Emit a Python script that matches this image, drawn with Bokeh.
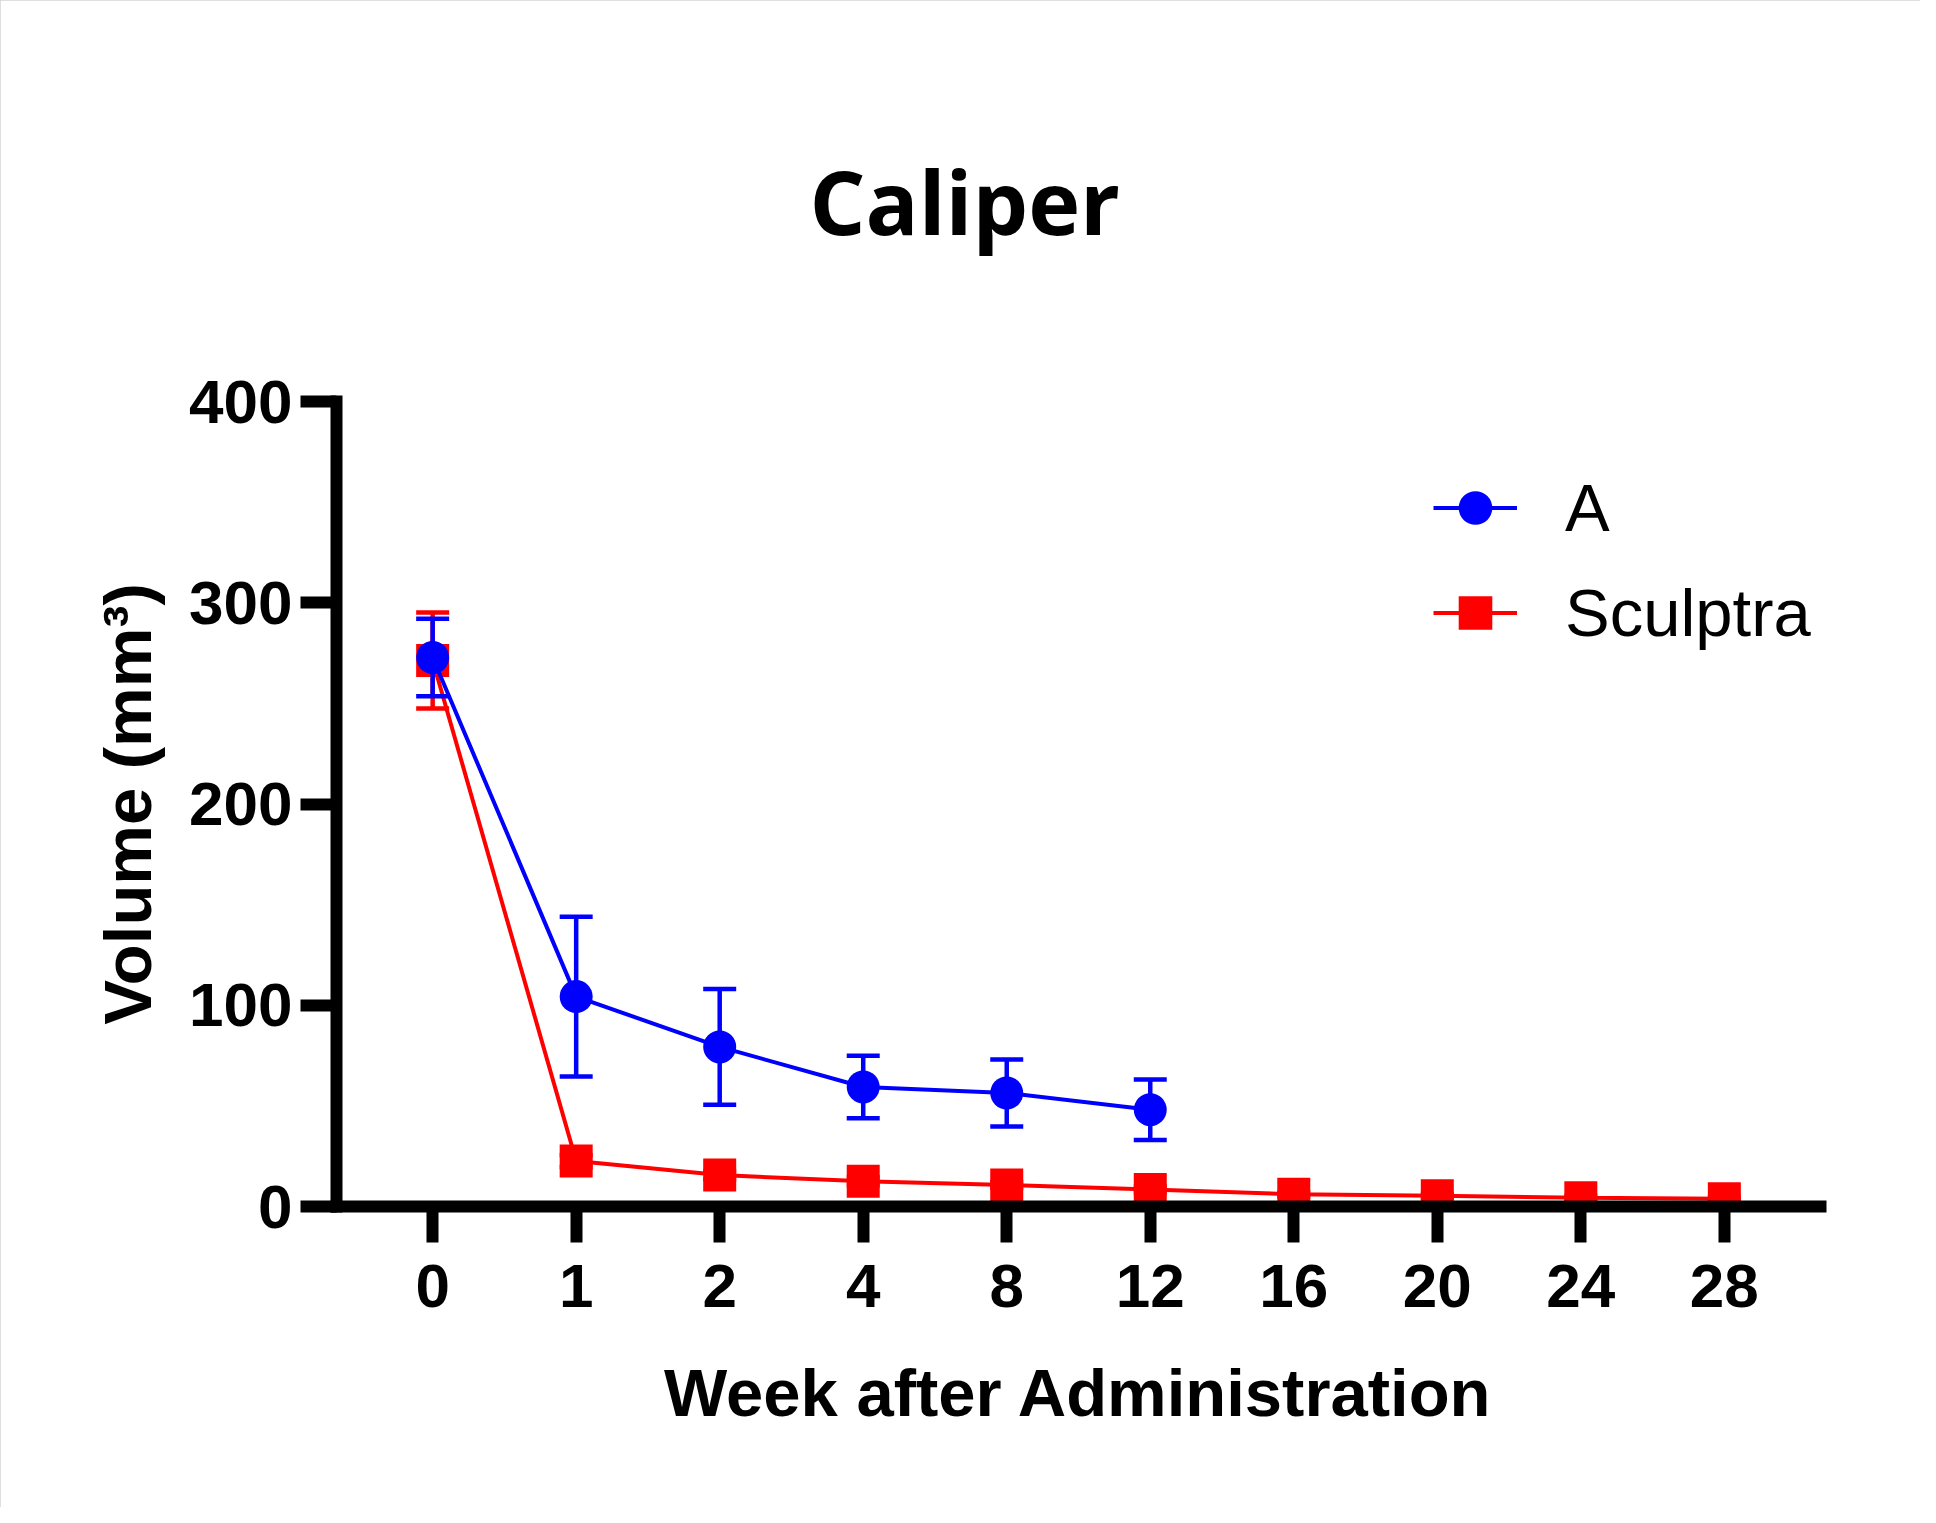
from bokeh.plotting import figure
from bokeh.models import (FactorRange, Range1d, FixedTicker, Legend,
                          LegendItem, ColumnDataSource)
from bokeh.embed import file_html
from bokeh.resources import INLINE

# ---- data ----
weeks = ["0", "1", "2", "4", "8", "12", "16", "20", "24", "28"]
a_weeks = ["0", "1", "2", "4", "8", "12"]
a_mean = [272.8, 104.3, 79.3, 59.4, 56.4, 48.1]
a_sem = [19.3, 39.7, 28.8, 15.5, 16.6, 15.0]
s_mean = [271.3, 22.6, 15.6, 12.5, 10.7, 8.4, 6.1, 5.3, 4.4, 3.8]
s_sem = [23.8, 3.0, 2.0, 2.0, 1.5, 1.5, 1.0, 1.0, 1.0, 1.0]
y_ticks = [0, 100, 200, 300, 400]
series_names = ["A", "Sculptra"]

BLUE = "#0000FF"
RED = "#FF0000"
AX_FONT = "Liberation Sans"

p = figure(width=1920, height=1507,
           x_range=FactorRange(factors=weeks, range_padding=0.17,
                               range_padding_units="absolute"),
           y_range=Range1d(0, 400),
           output_backend="svg", toolbar_location=None,
           min_border_left=336, min_border_right=100,
           min_border_top=401, min_border_bottom=301)
p.outline_line_color = None
p.xgrid.visible = False
p.ygrid.visible = False
p.background_fill_color = "white"
p.border_fill_color = "white"
p.styles = {"outline": "2px solid #d4d4d4", "outline-offset": "-2px"}

# title
p.title.text = "Caliper"
p.title.align = "left"
p.title.vertical_align = "top"
p.title.offset = 473
p.title.standoff = 278
p.title.text_font = "Open Sans"
p.title.text_font_style = "bold"
p.title.text_font_size = "88px"
p.title.text_color = "black"

p.yaxis.ticker = FixedTicker(ticks=y_ticks)
p.yaxis.axis_label = "Volume (mm³)"
p.xaxis.axis_label = "Week after Administration"

for ax in (p.xaxis[0], p.yaxis[0]):
    ax.axis_line_width = 12
    ax.axis_line_cap = "square"
    ax.axis_line_color = "black"
    ax.major_tick_line_width = 12
    ax.major_tick_line_color = "black"
    ax.major_tick_out = 36
    ax.major_tick_in = 0
    ax.minor_tick_line_color = None
    ax.major_label_text_font = AX_FONT
    ax.major_label_text_font_style = "bold"
    ax.major_label_text_font_size = "62px"
    ax.major_label_text_color = "black"
    ax.axis_label_text_font = AX_FONT
    ax.axis_label_text_font_style = "bold"
    ax.axis_label_text_font_size = "67px"
    ax.axis_label_text_color = "black"
p.xaxis.major_label_standoff = 22
p.yaxis.major_label_standoff = 8
p.xaxis.axis_label_standoff = 45
p.yaxis.axis_label_standoff = 21


def add_series(xs, means, sems, color, marker):
    src = ColumnDataSource(dict(
        x=xs, y=means,
        lo=[m - s for m, s in zip(means, sems)],
        hi=[m + s for m, s in zip(means, sems)]))
    p.segment(x0="x", y0="lo", x1="x", y1="hi", source=src,
              line_color=color, line_width=4.5)
    p.scatter(x="x", y="hi", source=src, marker="dash", size=33,
              line_color=color, line_width=4.5)
    p.scatter(x="x", y="lo", source=src, marker="dash", size=33,
              line_color=color, line_width=4.5)
    ln = p.line(x="x", y="y", source=src, line_color=color, line_width=4)
    mk = p.scatter(x="x", y="y", source=src, marker=marker, size=33,
                   fill_color=color, line_color=color, line_width=0)
    return ln, mk


r_line, r_mark = add_series(weeks, s_mean, s_sem, RED, "square")
b_line, b_mark = add_series(a_weeks, a_mean, a_sem, BLUE, "circle")

legend = Legend(items=[LegendItem(label=series_names[0], renderers=[b_line, b_mark]),
                       LegendItem(label=series_names[1], renderers=[r_line, r_mark])],
                location=(1097, 541), glyph_width=84, glyph_height=105,
                label_height=105, spacing=0, padding=0, margin=0,
                label_standoff=48, border_line_color=None,
                background_fill_alpha=0,
                label_text_font=AX_FONT, label_text_font_size="67px",
                label_text_color="black")
p.add_layout(legend)

open("out.html", "w").write(file_html(p, INLINE))
